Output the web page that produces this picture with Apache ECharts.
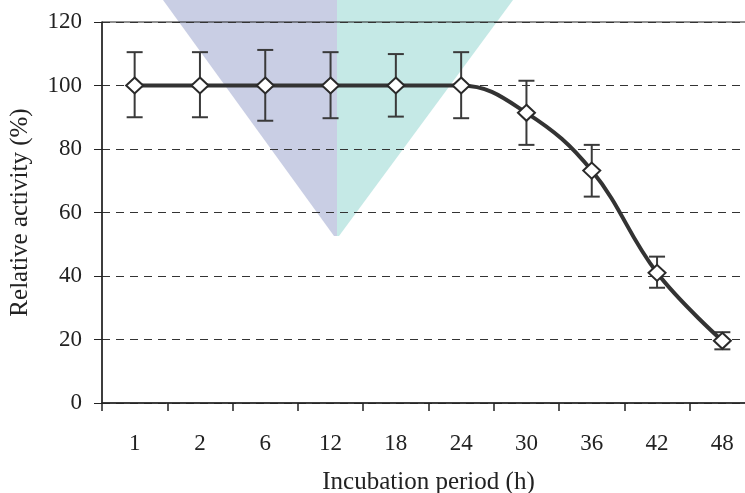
<!DOCTYPE html>
<html>
<head>
<meta charset="utf-8">
<script src="https://cdn.jsdelivr.net/npm/echarts@6/dist/echarts.min.js"></script>
<style>
html,body{margin:0;padding:0;background:#fff;}
#chart{width:745px;height:493px;}
</style>
</head>
<body>
<div id="chart"></div>
<script>
var categories = ['1','2','6','12','18','24','30','36','42','48'];
var activity = [100, 100, 100, 100, 100, 100, 91.4, 73.2, 41.0, 19.6];
var errLow  = [90, 90, 88.9, 89.7, 90.2, 89.7, 81.3, 65.0, 36.3, 16.9];
var errHigh = [110.5, 110.5, 111.2, 110.5, 109.9, 110.5, 101.5, 81.3, 46.1, 22.3];
var yTicks = { min: 0, max: 120, interval: 20 };

var chart = echarts.init(document.getElementById('chart'), null, {renderer:'canvas'});
var font = 'Liberation Serif';
var textColor = '#222';

var errData = categories.map(function (c, i) { return [i, errLow[i], errHigh[i]]; });

var option = {
  animation: false,
  backgroundColor: '#fff',
  graphic: [
    { type: 'polygon', z: -10, silent: true,
      shape: { points: [[163, 0], [337, 0], [337, 236], [334, 236]] },
      style: { fill: '#c9cee4' } },
    { type: 'polygon', z: -10, silent: true,
      shape: { points: [[337, 0], [513, 0], [339, 236], [337, 236]] },
      style: { fill: '#c5e9e6' } }
  ],
  grid: {
    left: 102, top: 22, width: 653, height: 381,
    outerBoundsMode: 'none',
    show: true, borderColor: '#222', borderWidth: 1, backgroundColor: 'transparent'
  },
  xAxis: {
    type: 'category',
    data: categories,
    boundaryGap: true,
    name: 'Incubation period (h)',
    nameLocation: 'middle',
    nameGap: 67,
    nameTextStyle: { fontFamily: font, fontSize: 25, color: textColor },
    axisLine: { lineStyle: { color: '#222', width: 1.5 } },
    axisTick: { show: true, length: 8, inside: false, alignWithLabel: false, lineStyle: { color: '#222', width: 1.5 } },
    axisLabel: { fontFamily: font, fontSize: 23, color: textColor, margin: 29 },
    splitLine: { show: false }
  },
  yAxis: {
    type: 'value',
    min: yTicks.min, max: yTicks.max, interval: yTicks.interval,
    name: 'Relative activity (%)',
    nameLocation: 'middle',
    nameGap: 69,
    nameTextStyle: { fontFamily: font, fontSize: 25, color: textColor },
    axisLine: { show: true, lineStyle: { color: '#222', width: 1.5 } },
    axisTick: { show: true, length: 8, lineStyle: { color: '#222', width: 1 } },
    axisLabel: { fontFamily: font, fontSize: 23, color: textColor, margin: 20 },
    splitLine: { show: true, lineStyle: { color: '#333', type: [8, 6], width: 1 } }
  },
  series: [
    {
      type: 'custom',
      z: 2,
      data: errData,
      renderItem: function (params, api) {
        var x = api.value(0);
        var lo = api.coord([x, api.value(1)]);
        var hi = api.coord([x, api.value(2)]);
        var hw = 8;
        var st = { stroke: '#3a3a3a', lineWidth: 2 };
        return {
          type: 'group',
          children: [
            { type: 'line', shape: { x1: hi[0], y1: hi[1], x2: lo[0], y2: lo[1] }, style: st },
            { type: 'line', shape: { x1: hi[0] - hw, y1: hi[1], x2: hi[0] + hw, y2: hi[1] }, style: st },
            { type: 'line', shape: { x1: lo[0] - hw, y1: lo[1], x2: lo[0] + hw, y2: lo[1] }, style: st }
          ]
        };
      }
    },
    {
      type: 'line',
      z: 3,
      data: activity,
      smooth: 0.4,
      symbol: 'diamond',
      symbolSize: [17, 16],
      showAllSymbol: true,
      lineStyle: { color: '#333', width: 4 },
      itemStyle: { color: '#fff', borderColor: '#2a2a2a', borderWidth: 2 }
    }
  ]
};
chart.setOption(option);
</script>
</body>
</html>
